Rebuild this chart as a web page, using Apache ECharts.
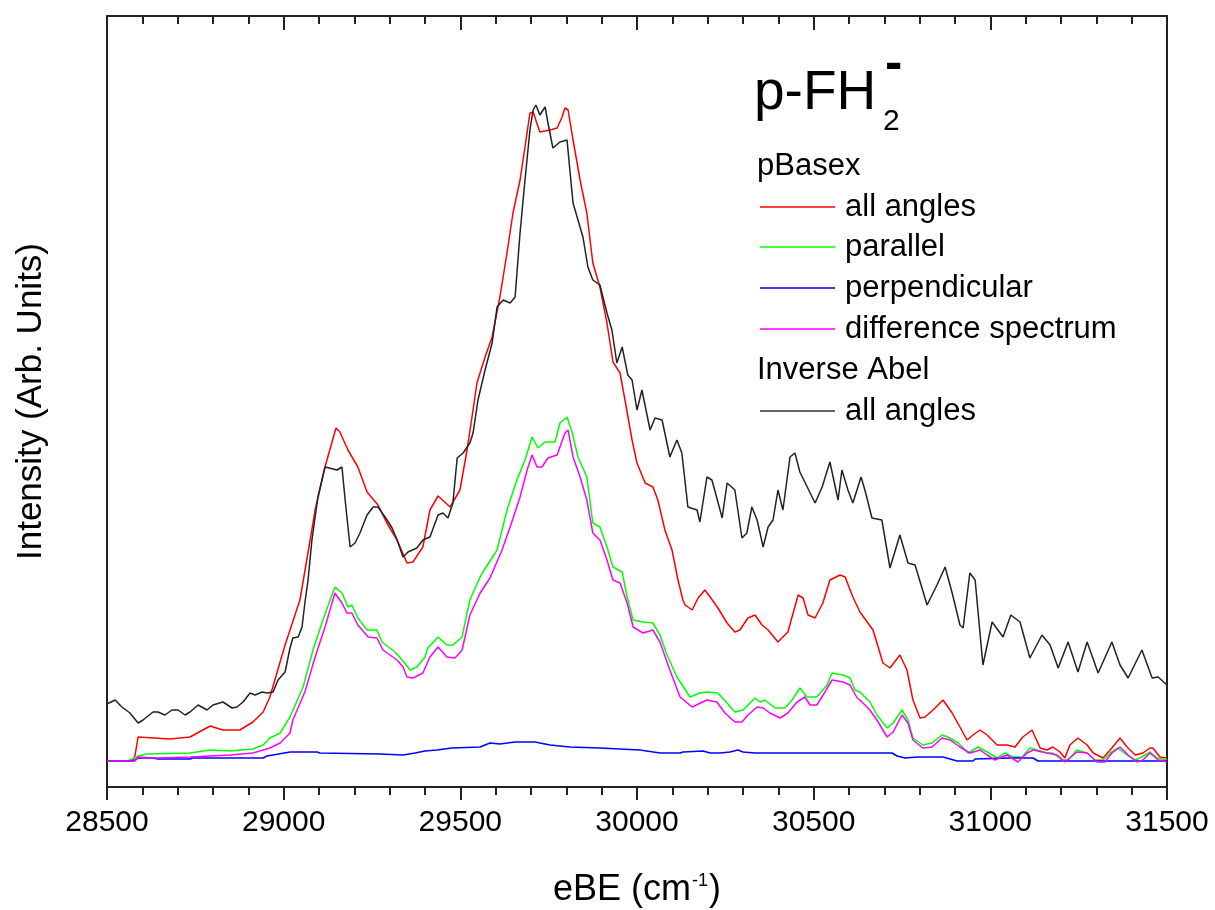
<!DOCTYPE html>
<html>
<head>
<meta charset="utf-8">
<script src="https://cdn.jsdelivr.net/npm/echarts@6/dist/echarts.min.js"></script>
<style>
html,body{margin:0;padding:0;background:#fff;}
#chart{width:1215px;height:910px;}
</style>
</head>
<body>
<div id="chart"></div>
<script>
// x: electron binding energy (cm^-1), y: intensity (arb. units)
const xTicks = [28500, 29000, 29500, 30000, 30500, 31000, 31500];

const pbasexAll = [[28500,0],[28571,0],[28579,5],[28588,24],[28678,22],[28735,24],[28792,35],[28828,31],[28876,31],[28913,39],[28942,49],[28961,64],[28975,81],[29004,116],[29046,161],[29075,221],[29089,251],[29117,294],[29148,333],[29159,329],[29182,311],[29210,294],[29236,269],[29267,256],[29292,238],[29321,221],[29349,198],[29366,199],[29394,214],[29414,251],[29437,265],[29471,254],[29499,271],[29519,311],[29536,351],[29547,378],[29570,404],[29590,424],[29612,464],[29632,508],[29649,548],[29669,581],[29683,614],[29697,648],[29706,649],[29725,629],[29754,631],[29774,633],[29788,644],[29796,653],[29805,651],[29819,621],[29839,581],[29858,548],[29875,498],[29895,474],[29915,438],[29932,399],[29952,388],[29966,361],[29986,321],[30000,298],[30023,278],[30045,274],[30059,261],[30079,231],[30099,211],[30116,181],[30130,161],[30136,156],[30156,151],[30173,163],[30192,171],[30207,164],[30229,153],[30255,138],[30277,129],[30291,131],[30314,143],[30334,146],[30354,136],[30371,131],[30399,119],[30427,129],[30456,166],[30470,163],[30484,146],[30504,143],[30526,158],[30546,181],[30575,186],[30589,184],[30611,164],[30631,149],[30668,131],[30696,98],[30716,93],[30744,106],[30764,91],[30781,61],[30801,43],[30815,44],[30838,51],[30866,61],[30892,48],[30914,34],[30934,21],[30951,26],[30971,31],[30991,26],[31019,16],[31047,16],[31070,14],[31092,24],[31118,31],[31141,13],[31160,11],[31177,14],[31197,9],[31211,3],[31225,16],[31248,23],[31274,16],[31291,8],[31319,3],[31344,13],[31367,23],[31387,14],[31410,6],[31432,8],[31452,13],[31460,13],[31480,4],[31500,3]];

const pbasexParallel = [[28500,0],[28559,0],[28588,5],[28613,7],[28735,8],[28792,11],[28848,10],[28913,12],[28942,16],[28961,23],[28990,28],[29018,44],[29055,74],[29083,111],[29111,141],[29145,174],[29165,168],[29182,154],[29193,156],[29210,143],[29236,131],[29264,131],[29278,119],[29315,109],[29335,101],[29358,91],[29377,94],[29400,104],[29408,113],[29437,124],[29462,116],[29479,116],[29505,124],[29527,161],[29556,184],[29564,189],[29604,211],[29632,251],[29660,281],[29683,301],[29703,324],[29720,313],[29740,319],[29768,319],[29782,338],[29802,344],[29816,329],[29833,304],[29858,284],[29875,238],[29895,234],[29915,214],[29932,194],[29958,189],[29972,164],[29989,141],[30017,139],[30045,138],[30065,126],[30085,106],[30113,84],[30150,64],[30178,68],[30198,69],[30229,68],[30255,58],[30277,49],[30300,51],[30334,63],[30348,59],[30362,61],[30391,53],[30419,53],[30439,61],[30461,73],[30481,64],[30509,64],[30538,76],[30552,88],[30583,86],[30603,83],[30617,71],[30631,69],[30659,59],[30679,46],[30708,33],[30725,38],[30750,51],[30767,41],[30781,23],[30809,16],[30835,18],[30863,26],[30880,24],[30909,18],[30937,8],[30965,14],[30991,9],[31019,3],[31042,8],[31064,4],[31090,4],[31112,13],[31132,11],[31160,8],[31177,8],[31203,1],[31220,1],[31245,11],[31274,8],[31296,1],[31319,1],[31339,8],[31361,13],[31387,6],[31410,1],[31429,4],[31452,9],[31472,3],[31500,1]];

const pbasexPerp = [[28500,0],[28575,0],[28588,3],[28630,3],[28644,2],[28735,2],[28743,3],[28942,3],[28953,5],[29018,9],[29094,9],[29103,8],[29273,7],[29278,6],[29338,6],[29372,8],[29400,10],[29434,11],[29476,13],[29556,14],[29584,18],[29612,17],[29655,19],[29711,19],[29754,16],[29810,14],[29895,13],[30008,11],[30065,8],[30122,8],[30130,9],[30187,10],[30207,8],[30235,8],[30263,9],[30286,11],[30300,9],[30334,8],[30391,8],[30538,8],[30631,8],[30722,8],[30736,5],[30759,3],[30795,4],[30866,4],[30906,0],[30951,0],[30957,2],[31056,3],[31121,3],[31135,0],[31500,0]];

const pbasexDiff = [[28500,0],[28579,0],[28588,4],[28642,3],[28735,4],[28848,6],[28913,8],[28961,13],[28990,18],[29018,28],[29026,41],[29060,69],[29089,104],[29117,134],[29145,168],[29165,158],[29179,148],[29193,148],[29210,136],[29239,124],[29264,123],[29281,111],[29321,101],[29338,94],[29349,84],[29366,83],[29394,88],[29414,104],[29437,114],[29462,104],[29485,103],[29505,111],[29527,146],[29556,168],[29584,183],[29618,211],[29641,234],[29669,264],[29689,291],[29703,306],[29717,294],[29731,294],[29748,303],[29774,306],[29779,311],[29796,328],[29805,331],[29819,304],[29839,284],[29858,261],[29875,228],[29895,221],[29915,201],[29932,181],[29952,178],[29972,158],[29989,134],[30017,128],[30045,131],[30065,119],[30093,91],[30122,64],[30156,54],[30198,61],[30226,59],[30249,48],[30277,39],[30297,39],[30314,46],[30340,54],[30357,53],[30376,48],[30405,43],[30427,48],[30453,59],[30475,64],[30490,56],[30509,56],[30532,69],[30552,81],[30583,79],[30603,76],[30623,63],[30631,61],[30659,51],[30679,41],[30708,24],[30725,29],[30750,46],[30767,38],[30781,21],[30809,13],[30835,14],[30863,23],[30886,21],[30914,14],[30942,8],[30971,11],[30991,6],[31013,1],[31047,6],[31078,-1],[31104,8],[31121,11],[31160,8],[31189,6],[31211,-1],[31245,9],[31274,8],[31302,-1],[31324,-1],[31344,8],[31367,14],[31390,6],[31415,-1],[31432,1],[31452,8],[31475,1],[31500,-1]];

const abelAll = [[28500,57],[28523,61],[28542,54],[28565,48],[28588,38],[28602,41],[28630,49],[28644,49],[28664,46],[28684,51],[28701,51],[28721,46],[28735,49],[28758,56],[28783,51],[28800,56],[28828,59],[28854,53],[28868,54],[28885,59],[28905,68],[28919,66],[28939,69],[28953,68],[28970,69],[28984,81],[29004,89],[29018,113],[29026,123],[29041,124],[29052,134],[29060,158],[29069,181],[29080,221],[29097,264],[29117,294],[29151,291],[29165,294],[29174,261],[29188,214],[29202,218],[29216,228],[29236,246],[29253,254],[29267,254],[29287,244],[29307,233],[29321,221],[29338,204],[29352,209],[29377,213],[29394,221],[29414,224],[29437,246],[29451,248],[29465,243],[29479,258],[29491,303],[29508,308],[29527,318],[29536,328],[29550,361],[29570,391],[29590,418],[29604,454],[29621,461],[29641,458],[29655,464],[29669,528],[29683,581],[29697,631],[29706,651],[29714,656],[29725,646],[29740,654],[29748,638],[29762,613],[29782,619],[29802,621],[29810,591],[29819,558],[29833,541],[29847,524],[29861,494],[29875,481],[29895,476],[29915,448],[29929,431],[29943,398],[29958,414],[29974,386],[29986,381],[30000,351],[30014,371],[30037,331],[30051,343],[30071,341],[30093,304],[30113,321],[30127,308],[30144,254],[30170,251],[30178,239],[30198,284],[30212,281],[30226,263],[30241,243],[30255,278],[30277,271],[30297,223],[30311,228],[30325,254],[30340,241],[30357,214],[30371,234],[30385,241],[30399,271],[30413,251],[30433,304],[30447,308],[30461,289],[30504,258],[30524,274],[30546,299],[30569,261],[30580,291],[30597,271],[30611,258],[30634,284],[30645,271],[30665,243],[30693,241],[30716,193],[30744,226],[30767,198],[30787,196],[30821,156],[30849,176],[30872,194],[30892,168],[30914,136],[30923,133],[30942,188],[30957,181],[30979,96],[31005,139],[31036,124],[31058,146],[31084,139],[31112,103],[31146,126],[31169,116],[31192,93],[31220,119],[31248,89],[31274,119],[31305,88],[31344,119],[31367,96],[31390,83],[31429,111],[31458,83],[31475,84],[31500,76]];

const FONT = '"Liberation Sans", Arial, sans-serif';
const AX = '#222';

const chart = echarts.init(document.getElementById('chart'), null, {renderer: 'canvas'});

function lineSeries(name, data, color) {
  return {
    name: name, type: 'line', data: data, showSymbol: false, symbol: 'none',
    animation: false, smooth: false,
    lineStyle: {color: color, width: 1.5}, itemStyle: {color: color}, z: 3
  };
}

const legendRows = [
  {label: 'all angles', color: '#ff0000', y: 207},
  {label: 'parallel', color: '#00ff00', y: 247},
  {label: 'perpendicular', color: '#0000ff', y: 288},
  {label: 'difference spectrum', color: '#ff00ff', y: 329},
  {label: 'all angles', color: '#333333', y: 411}
];

const LEG = '31px ' + FONT;
const graphics = [
  {type: 'text', position: [754, 0], style: {text: 'p-FH', x: 0, y: 94, font: '55px ' + FONT, fill: '#000', textVerticalAlign: 'middle'}, silent: true},
  {type: 'text', position: [883, 0], style: {text: '2', x: 0, y: 122, font: '30px ' + FONT, fill: '#000', textVerticalAlign: 'middle'}, silent: true},
  {type: 'text', position: [885, 0], style: {text: '-', x: 0, y: 65, font: 'bold 52px ' + FONT, fill: '#000', textVerticalAlign: 'middle'}, silent: true},
  {type: 'text', position: [757, 0], style: {text: 'pBasex', x: 0, y: 166, font: LEG, fill: '#000', textVerticalAlign: 'middle'}, silent: true},
  {type: 'text', position: [757, 0], style: {text: 'Inverse Abel', x: 0, y: 370, font: LEG, fill: '#000', textVerticalAlign: 'middle'}, silent: true}
];
legendRows.forEach(function (r) {
  graphics.push({type: 'line', shape: {x1: 760, y1: r.y, x2: 835, y2: r.y}, style: {stroke: r.color, lineWidth: 1.5}, silent: true});
  graphics.push({type: 'text', position: [845, 0], style: {text: r.label, x: 0, y: r.y, font: LEG, fill: '#000', textVerticalAlign: 'middle'}, silent: true});
});

const option = {
  animation: false,
  backgroundColor: '#ffffff',
  grid: {left: 107, right: 48, top: 16, bottom: 123, containLabel: false, outerBoundsMode: 'none'},
  xAxis: [
    {
      type: 'value', position: 'bottom', min: xTicks[0], max: xTicks[xTicks.length - 1], interval: 500,
      name: '{a|eBE (cm}{s|-1}{a|)}', nameLocation: 'middle', nameGap: 85,
      nameTextStyle: {rich: {
        a: {fontSize: 36, fontFamily: FONT, color: '#000'},
        s: {fontSize: 18, fontFamily: FONT, color: '#000', verticalAlign: 'top', padding: [0, 1, 0, 1]}
      }},
      axisLine: {show: true, onZero: false, lineStyle: {color: AX, width: 2}},
      axisTick: {show: true, inside: false, length: 13, lineStyle: {color: AX, width: 2}},
      minorTick: {show: true, splitNumber: 5, length: 8, lineStyle: {color: AX, width: 2}},
      axisLabel: {show: true, fontSize: 30, fontFamily: FONT, color: '#000', margin: 21,
        formatter: function (v) { return String(v); }},
      splitLine: {show: false}, minorSplitLine: {show: false}
    },
    {
      type: 'value', position: 'top', min: xTicks[0], max: xTicks[xTicks.length - 1], interval: 500,
      axisLine: {show: true, onZero: false, lineStyle: {color: AX, width: 2}},
      axisTick: {show: true, inside: true, length: 14, lineStyle: {color: AX, width: 2}},
      minorTick: {show: true, splitNumber: 5, length: 8, lineStyle: {color: AX, width: 2}},
      axisLabel: {show: false}, splitLine: {show: false}
    }
  ],
  yAxis: [
    {
      type: 'value', position: 'left', min: -26, max: 745,
      name: 'Intensity (Arb. Units)', nameLocation: 'middle', nameGap: 58, nameRotate: 90,
      nameTextStyle: {fontSize: 35, fontFamily: FONT, color: '#000'},
      axisLine: {show: true, onZero: false, lineStyle: {color: AX, width: 2}},
      axisTick: {show: false}, axisLabel: {show: false}, splitLine: {show: false}
    },
    {
      type: 'value', position: 'right', min: -26, max: 745,
      axisLine: {show: true, onZero: false, lineStyle: {color: AX, width: 2}},
      axisTick: {show: false}, axisLabel: {show: false}, splitLine: {show: false}
    }
  ],
  series: [
    lineSeries('pBasex all angles', pbasexAll, '#ff0000'),
    lineSeries('parallel', pbasexParallel, '#00ff00'),
    lineSeries('perpendicular', pbasexPerp, '#0000ff'),
    lineSeries('difference spectrum', pbasexDiff, '#ff00ff'),
    lineSeries('Inverse Abel all angles', abelAll, '#222222')
  ],
  graphic: graphics
};
chart.setOption(option);
</script>
</body>
</html>
